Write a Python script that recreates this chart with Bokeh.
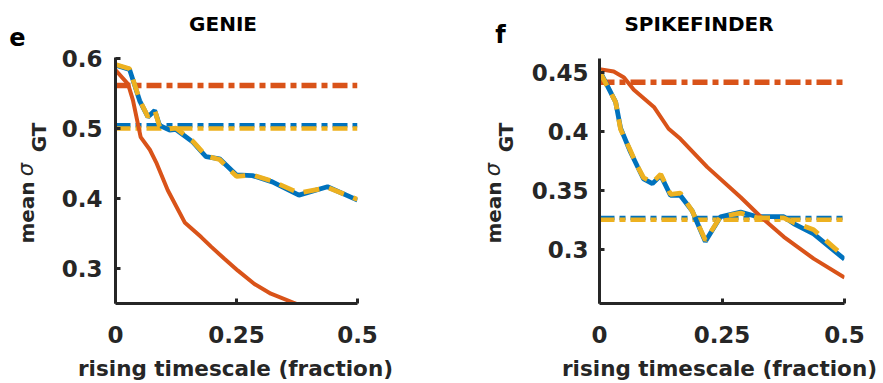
import math
from bokeh.plotting import figure
from bokeh.layouts import row, column
from bokeh.models import Label, FixedTicker, Range1d
from bokeh.embed import file_html
from bokeh.resources import INLINE

# ---------------- data ----------------
# GENIE panel (e)
genie_blue_x = [0, 0.029, 0.050, 0.067, 0.081, 0.091, 0.112, 0.125, 0.160, 0.187, 0.215, 0.25, 0.283, 0.324, 0.379, 0.438, 0.5]
genie_blue_y = [0.591, 0.585, 0.540, 0.517, 0.526, 0.505, 0.498, 0.499, 0.481, 0.460, 0.457, 0.434, 0.433, 0.424, 0.405, 0.417, 0.398]
genie_yellow_x = genie_blue_x
genie_yellow_y = [0.592, 0.586, 0.541, 0.517, 0.527, 0.503, 0.500, 0.501, 0.482, 0.461, 0.456, 0.432, 0.434, 0.425, 0.408, 0.416, 0.399]
genie_orange_x = [0, 0.026, 0.036, 0.052, 0.071, 0.084, 0.108, 0.143, 0.177, 0.198, 0.225, 0.253, 0.287, 0.321, 0.372, 0.38]
genie_orange_y = [0.584, 0.564, 0.541, 0.488, 0.470, 0.452, 0.412, 0.366, 0.345, 0.331, 0.314, 0.297, 0.278, 0.264, 0.250, 0.247]
genie_ref = {"orange": 0.562, "blue": 0.505, "yellow": 0.5005}
genie_yticks = [0.3, 0.4, 0.5, 0.6]
genie_ylabels = ["0.3", "0.4", "0.5", "0.6"]

# SPIKEFINDER panel (f)
spk_blue_x = [0, 0.033, 0.043, 0.063, 0.077, 0.090, 0.108, 0.125, 0.145, 0.165, 0.189, 0.216, 0.247, 0.288, 0.322, 0.376, 0.397, 0.437, 0.5]
spk_blue_y = [0.452, 0.425, 0.403, 0.383, 0.371, 0.360, 0.356, 0.363, 0.346, 0.346, 0.333, 0.307, 0.328, 0.332, 0.328, 0.328, 0.322, 0.3135, 0.292]
spk_yellow_x = spk_blue_x
spk_yellow_y = [0.451, 0.425, 0.402, 0.384, 0.371, 0.361, 0.357, 0.364, 0.347, 0.348, 0.333, 0.308, 0.328, 0.331, 0.327, 0.327, 0.323, 0.317, 0.294]
spk_orange_x = [0, 0.029, 0.050, 0.070, 0.111, 0.141, 0.165, 0.220, 0.288, 0.329, 0.376, 0.437, 0.5]
spk_orange_y = [0.453, 0.451, 0.446, 0.4355, 0.421, 0.4025, 0.394, 0.370, 0.3445, 0.328, 0.311, 0.2925, 0.2765]
spk_ref = {"orange": 0.4418, "blue": 0.327, "yellow": 0.3255}
spk_yticks = [0.3, 0.35, 0.4, 0.45]
spk_ylabels = ["0.3", "0.35", "0.4", "0.45"]

xticks = [0, 0.25, 0.5]
xlabels = ["0", "0.25", "0.5"]

titles = ["GENIE", "SPIKEFINDER"]
letters = ["e", "f"]
xlabel_text = "rising timescale (fraction)"

BLUE = "#0072BD"
ORANGE = "#D95319"
YELLOW = "#EDB120"
DARK = "#262626"
FONT = "DejaVu Sans"
BASE_SHIFT = 0.346  # em distance from text-box centre to baseline (DejaVu Sans)

W = 883
TOP_H = 46
ROW_H = 309
UPPER_H = TOP_H + ROW_H  # 355
BOT_H = 28


def text_fig(width, height, x0=0.0, x1=None, borders=(0, 0)):
    """A figure that only holds text; data coordinates equal page pixels."""
    if x1 is None:
        x1 = x0 + width
    f = figure(width=width, height=height, x_range=Range1d(x0, x1), y_range=Range1d(0, height),
               x_axis_type=None, y_axis_type=None, output_backend="svg",
               toolbar_location=None, title_location=None,
               min_border_left=borders[0], min_border_right=borders[1],
               min_border_top=0, min_border_bottom=0)
    f.outline_line_color = None
    return f


def add_text(f, x, y, text, size, style="bold", color=DARK, angle=0.0):
    f.add_layout(Label(x=x, y=y, text=text, angle=angle, text_font=FONT,
                       text_font_style=style, text_font_size=f"{size}px", text_color=color,
                       text_align="center", text_baseline="middle"))


def make_panel(width, height, borders, ylim, bx, by, ox, oy, yx, yy,
               yticks, ylabels, ref, ystandoff):
    left, right, top, bottom = borders
    p = figure(width=width, height=height, x_range=Range1d(0, 0.5),
               y_range=Range1d(*ylim), output_backend="svg", toolbar_location=None,
               title_location=None,
               min_border_left=left, min_border_right=right,
               min_border_top=top, min_border_bottom=bottom)
    p.outline_line_color = None
    p.xgrid.visible = False
    p.ygrid.visible = False

    p.line([0, 0.5], [ref["orange"]] * 2, line_color=ORANGE, line_width=5.5, line_dash="15 5 6 5")
    p.line([0, 0.5], [ref["blue"]] * 2, line_color=BLUE, line_width=4.5, line_dash="15 5 6 5")
    p.line([0, 0.5], [ref["yellow"]] * 2, line_color=YELLOW, line_width=4.5, line_dash="15 5 6 5")

    p.line(bx, by, line_color=BLUE, line_width=4.8)
    p.line(ox, oy, line_color=ORANGE, line_width=4)
    p.line(yx, yy, line_color=YELLOW, line_width=4.8, line_dash="16 10")

    for ax in (p.xaxis[0], p.yaxis[0]):
        ax.axis_line_width = 3
        ax.axis_line_color = DARK
        ax.major_tick_line_width = 3
        ax.major_tick_line_color = DARK
        ax.major_tick_in = 5
        ax.major_tick_out = 0
        ax.minor_tick_line_color = None
        ax.major_label_text_font = FONT
        ax.major_label_text_font_style = "bold"
        ax.major_label_text_font_size = "23px"
        ax.major_label_text_color = DARK

    p.xaxis.ticker = FixedTicker(ticks=xticks)
    p.xaxis.major_label_overrides = dict(zip(xticks, xlabels))
    p.xaxis.major_label_standoff = 22
    p.yaxis.ticker = FixedTicker(ticks=yticks)
    p.yaxis.major_label_overrides = dict(zip(yticks, ylabels))
    p.yaxis.major_label_standoff = ystandoff
    return p


def side_column(left_px, width, letter, letter_x, letter_base, base_main, base_sub):
    """Strip left of a panel: panel letter and rotated y label (page-pixel coords)."""
    f = text_fig(width, UPPER_H, x0=left_px)
    add_text(f, letter_x, UPPER_H - (letter_base - BASE_SHIFT * 24), letter, 24, color="black")

    def put(baseline_x, centre_y, text, size, style):
        add_text(f, baseline_x - BASE_SHIFT * size, UPPER_H - centre_y, text, size,
                 style=style, angle=math.pi / 2)

    put(base_main, 212, "mean", 20, "bold")
    put(base_main, 169, "σ", 21, "italic")
    put(base_sub, 137, "GT", 20, "bold")
    return f


def title_strip(width, borders, frame_x0, frame_x1, title, centre_x):
    f = text_fig(width, TOP_H, x0=frame_x0, x1=frame_x1, borders=borders)
    add_text(f, centre_x, TOP_H - (30 - BASE_SHIFT * 20), title, 20, color="black")
    return f


# left panel: page x 58..441, frame 114..357
c1 = side_column(0, 58, letters[0], 17, 45, 33, 45)
p1 = make_panel(383, ROW_H, (56, 84, 11, 52), (0.25, 0.602),
                genie_blue_x, genie_blue_y, genie_orange_x, genie_orange_y,
                genie_yellow_x, genie_yellow_y, genie_yticks, genie_ylabels, genie_ref, 13)
col1 = column(title_strip(383, (56, 84), 114, 357, titles[0], 222), p1)

# right panel: page x 520..883, frame 599..844
c2 = side_column(441, 79, letters[1], 500, 43, 500, 512)
p2 = make_panel(363, ROW_H, (79, 39, 12, 52), (0.2545, 0.462),
                spk_blue_x, spk_blue_y, spk_orange_x, spk_orange_y,
                spk_yellow_x, spk_yellow_y, spk_yticks, spk_ylabels, spk_ref, 11)
col2 = column(title_strip(363, (79, 39), 599, 844, titles[1], 698.5), p2)

# bottom strip: x-axis labels across the full width
bot = text_fig(W, BOT_H)
for cx in (235, 719):
    add_text(bot, cx, BOT_H - (375.5 - UPPER_H - BASE_SHIFT * 21.5), xlabel_text, 21.5)

layout = column(row(c1, col1, c2, col2), bot)
open("out.html", "w").write(file_html(layout, INLINE))
